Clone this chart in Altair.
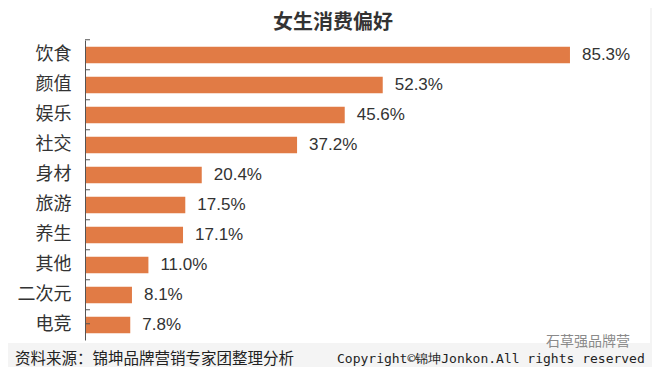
import altair as alt
import pandas as pd

categories = ["饮食", "颜值", "娱乐", "社交", "身材", "旅游", "养生", "其他", "二次元", "电竞"]
values = [85.3, 52.3, 45.6, 37.2, 20.4, 17.5, 17.1, 11.0, 8.1, 7.8]
title_text = ["女生消费偏好"]
source_text = ["资料来源：锦坤品牌营销专家团整理分析"]
copyright_text = ["Copyright©锦坤Jonkon.All rights reserved"]
watermark_text = ["石草强品牌营"]

df = pd.DataFrame({
    "cat": categories,
    "val": values,
    "label": [f"{v:.1f}%" for v in values],
})
one = pd.DataFrame({"k": [0]})

BAR = "#E17B45"
TXT = "#333333"

yscale = alt.Scale(domain=categories, paddingInner=0.45, paddingOuter=0.225)
xscale = alt.Scale(domain=[0, 98.7])

card = alt.Chart(one).mark_rect(color="white").encode(
    x=alt.value(-78), x2=alt.value(564), y=alt.value(-32), y2=alt.value(303)
)

bars = alt.Chart(df).mark_bar(color=BAR).encode(
    y=alt.Y("cat:N", scale=yscale, sort=categories,
            axis=alt.Axis(title=None, ticks=False, domainColor="#555555", domainWidth=1,
                          offset=1, labelFont="Noto Sans CJK SC", labelFontSize=18,
                          labelColor=TXT, labelPadding=14, zindex=1)),
    x=alt.X("val:Q", scale=xscale, axis=None),
)

labels = alt.Chart(df).mark_text(
    align="left", baseline="middle", dx=12, font="Liberation Sans", fontSize=17, color=TXT
).encode(
    y=alt.Y("cat:N", scale=yscale, sort=categories),
    x=alt.X("val:Q", scale=xscale),
    text="label:N",
)

ticks_top = alt.Chart(df).mark_rule(color="#555555", strokeWidth=1).encode(
    y=alt.Y("cat:N", scale=yscale, sort=categories, bandPosition=0),
    yOffset=alt.value(-7),
    x=alt.value(-1), x2=alt.value(4),
)
ticks_bottom = alt.Chart(df).transform_filter(
    alt.datum.cat == categories[-1]
).mark_rule(color="#555555", strokeWidth=1).encode(
    y=alt.Y("cat:N", scale=yscale, sort=categories, bandPosition=1),
    yOffset=alt.value(7),
    x=alt.value(-1), x2=alt.value(4),
)

title = alt.Chart(pd.DataFrame({"t": title_text})).mark_text(
    align="center", baseline="middle", font="Noto Sans CJK SC", fontSize=20,
    fontWeight="bold", color=TXT
).encode(x=alt.value(247), y=alt.value(-17), text="t:N")

source = alt.Chart(pd.DataFrame({"t": source_text})).mark_text(
    align="left", baseline="middle", font="Noto Sans CJK SC", fontSize=15.5, color="#222222"
).encode(x=alt.value(-71), y=alt.value(319), text="t:N")

copyright_ = alt.Chart(pd.DataFrame({"t": copyright_text})).mark_text(
    align="left", baseline="middle", font="DejaVu Sans Mono", fontSize=13, color="#222222"
).encode(x=alt.value(251), y=alt.value(319), text="t:N")

watermark = alt.Chart(pd.DataFrame({"t": watermark_text})).mark_text(
    align="left", baseline="middle", font="Noto Sans CJK SC", fontSize=14, color="#8a8a8a",
    fontWeight="normal"
).encode(x=alt.value(460), y=alt.value(302), text="t:N")

chart = alt.layer(
    card, bars, labels, ticks_top, ticks_bottom, title, source, copyright_, watermark
).properties(
    width=560, height=300,
    autosize=alt.AutoSizeParams(type="none"),
    padding={"left": 78, "top": 32, "right": 6, "bottom": 27},
    background="#f4f4f4",
).configure_view(stroke=None)

chart.save("out.html", embed_options={"renderer": "svg", "actions": False})
